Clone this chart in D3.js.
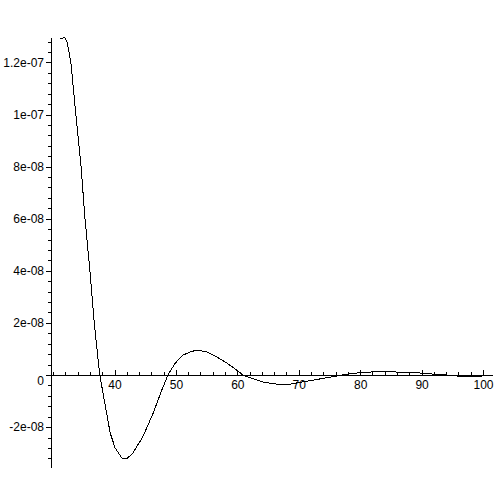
<!DOCTYPE html>
<html>
<head>
<meta charset="utf-8">
<script src="https://cdn.jsdelivr.net/npm/d3@7"></script>
<style>
body{margin:0;background:#fff;}
text{font-family:"Liberation Sans",Arial,sans-serif;font-size:12px;fill:#000;}
</style>
</head>
<body>
<svg width="497" height="497"></svg>
<script>
// curve
var xs = [31.1,31.9,32.3,32.9,33.7,34.55,35.2,36.0,36.7,37.6,38.6,39.3,40.1,41.2,42.0,43.0,44.6,46.3,47.7,48.7,49.9,51.2,52.3,53.4,55.0,56.6,58.3,59.9,60.9,62.6,64.2,66.4,68.6,76.4,77.8,80.3,83.2,88.6,91.0,93.5,95.9,99.8,101.1];
var ys = [1.290e-7,1.295e-7,1.278e-7,1.199e-7,1.002e-7,0.802e-7,0.599e-7,0.399e-7,0.200e-7,0,-1.31e-8,-2.23e-8,-2.80e-8,-3.19e-8,-3.22e-8,-2.99e-8,-2.38e-8,-1.46e-8,-0.58e-8,0,0.46e-8,0.77e-8,0.88e-8,0.96e-8,0.89e-8,0.70e-8,0.46e-8,0.19e-8,0,-0.15e-8,-0.27e-8,-0.35e-8,-0.35e-8,-0.03e-8,0.03e-8,0.10e-8,0.13e-8,0.10e-8,0.05e-8,0.01e-8,-0.04e-8,-0.04e-8,-0.02e-8];

var xMajor = [40,50,60,70,80,90,100];
var xLabels = ["40","50","60","70","80","90","100"];
var yMajor = [-2e-8,0,2e-8,4e-8,6e-8,8e-8,1e-7,1.2e-7];
var yLabels = ["-2e-08","0","2e-08","4e-08","6e-08","8e-08","1e-07","1.2e-07"];

var svg = d3.select('svg');

var x = d3.scaleLinear().domain([40,100]).range([114.5,483]);
var y = d3.scaleLinear().domain([0,1.2e-7]).range([375,62.4]);
var xLo = x.invert(51), xHi = x.invert(493);
var yLo = y.invert(468), yHi = y.invert(38);

var xMinor = d3.range(30,101,2).filter(function(v){return v>xLo && xMajor.indexOf(v)<0;});
var yMinor = d3.range(-36e-9,130e-9,4e-9).filter(function(v){return v>yLo && v<yHi && yMajor.every(function(m){return Math.abs(m-v)>1e-12;});});

var x0 = y(0), y0 = 51;

// axis lines
svg.append('line').attr('x1',x(xLo)).attr('x2',x(xHi)).attr('y1',x0+0.5).attr('y2',x0+0.5).attr('stroke','black').attr('shape-rendering','crispEdges');
svg.append('line').attr('x1',y0+0.5).attr('x2',y0+0.5).attr('y1',y(yHi)).attr('y2',y(yLo)).attr('stroke','black').attr('shape-rendering','crispEdges');

// x ticks point up
var gx = svg.append('g').attr('transform','translate(0,'+x0+')');
gx.append('g').call(d3.axisBottom(x).tickValues(xMinor).tickSize(-3).tickFormat(''));
gx.append('g').call(d3.axisBottom(x).tickValues(xMajor).tickSize(-5).tickPadding(5).tickFormat(function(d,i){return xLabels[i];}));

var gy = svg.append('g').attr('transform','translate('+y0+',0)');
gy.append('g').call(d3.axisLeft(y).tickValues(yMinor).tickSize(3).tickFormat(''));
gy.append('g').call(d3.axisLeft(y).tickValues(yMajor).tickSize(5).tickPadding(2).tickFormat(function(d,i){return yLabels[i];}));

svg.selectAll('.domain').remove();
svg.selectAll('.tick line').attr('stroke','black').attr('shape-rendering','crispEdges');
svg.selectAll('.tick text').attr('font-family',null).attr('font-size',null).attr('fill','black');
// the zero label sits a little lower
gy.selectAll('.tick text').filter(function(d){return d===0;}).attr('dy','0.82em');

var line = d3.line().x(function(d,i){return x(xs[i]);}).y(function(d,i){return y(ys[i]);});
svg.append('path').attr('d',line(xs)).attr('fill','none').attr('stroke','black').attr('stroke-width',1).attr('shape-rendering','crispEdges');
</script>
</body>
</html>
